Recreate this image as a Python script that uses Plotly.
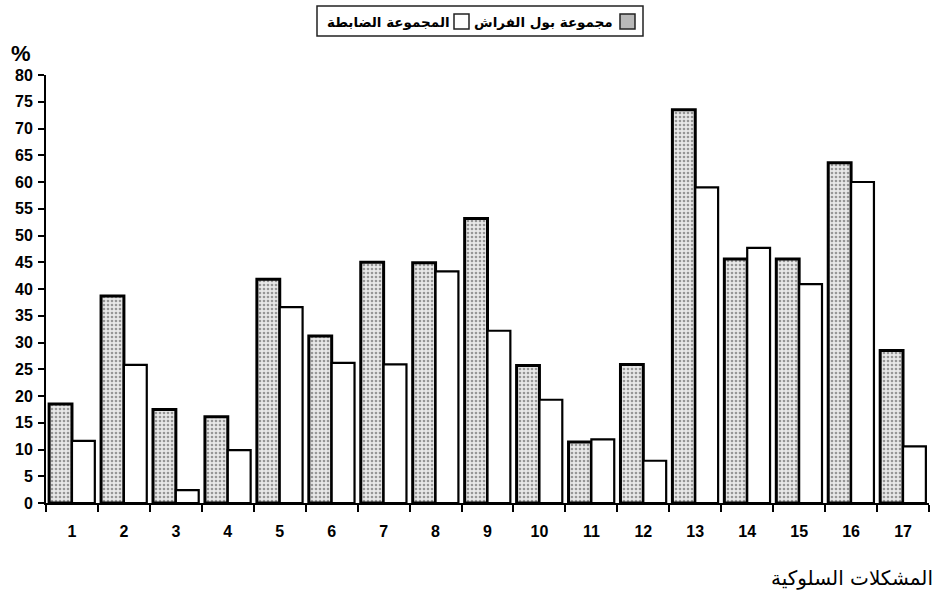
import plotly.graph_objects as go

categories = [str(i) for i in range(1, 18)]
bedwetting = [18.5, 38.7, 17.5, 16.1, 41.8, 31.2, 45.0, 44.9, 53.2, 25.7, 11.4, 25.9, 73.5, 45.6, 45.6, 63.6, 28.5]
control = [11.6, 25.8, 2.4, 9.9, 36.6, 26.2, 25.9, 43.3, 32.2, 19.3, 11.9, 7.9, 59.0, 47.7, 40.9, 60.0, 10.6]
y_ticks = list(range(0, 85, 5))

name_bed = "مجموعة بول الفراش"
name_ctrl = "المجموعة الضابطة"
x_title = "المشكلات السلوكية"

W, H = 936, 596
L, R, T, B = 46, 7, 75, 93
PW, PH = W - L - R, H - T - B

def px(x):
    return (x - L) / PW

def py(y):
    return (H - B - y) / PH

fig = go.Figure()
fig.add_trace(go.Bar(
    x=categories, y=bedwetting, name=name_bed,
    marker=dict(color="#e4e4e4",
                line=dict(color="black", width=3),
                pattern=dict(shape=".", size=4, solidity=0.35, fgcolor="#444444", bgcolor="#e8e8e8")),
    showlegend=False,
))
fig.add_trace(go.Bar(
    x=categories, y=control, name=name_ctrl,
    marker=dict(color="white", line=dict(color="black", width=2.2)),
    showlegend=False,
))

arabic_font = "DejaVu Sans"
tick_font = dict(family="Liberation Sans, Arial", size=16, color="black", weight="bold")

fig.update_layout(
    width=W, height=H,
    margin=dict(l=L, r=R, t=T, b=B, autoexpand=False),
    paper_bgcolor="white", plot_bgcolor="white",
    barmode="group", bargap=0.12, bargroupgap=0,
    xaxis=dict(type="category", tickson="boundaries", ticks="outside", ticklen=7, tickwidth=2,
               tickcolor="black", showline=True, linecolor="black", linewidth=2, automargin=False,
               showgrid=False, tickfont=tick_font, range=[-0.5, 16.5], ticklabelstandoff=13),
    yaxis=dict(range=[0, 80], tickvals=y_ticks, ticks="outside", ticklen=6, tickwidth=2,
               tickcolor="black", showline=True, linecolor="black", linewidth=2, automargin=False,
               showgrid=False, zeroline=False, tickfont=tick_font, ticklabelstandoff=2),
    font=dict(family=arabic_font, color="black"),
)

shapes = [
    dict(type="rect", xref="paper", yref="paper", x0=px(317), x1=px(643), y0=py(36), y1=py(6),
         line=dict(color="#222", width=1.5), fillcolor="white"),
    dict(type="rect", xref="paper", yref="paper", x0=px(620), x1=px(635), y0=py(29), y1=py(14),
         line=dict(color="#222", width=1.5), fillcolor="#b8b8b8"),
    dict(type="rect", xref="paper", yref="paper", x0=px(454), x1=px(469), y0=py(29), y1=py(14),
         line=dict(color="#222", width=1.5), fillcolor="white"),
]
fig.update_layout(shapes=shapes)

fig.add_annotation(xref="paper", yref="paper", x=px(543), y=py(21.5), text=name_bed,
                   showarrow=False, xanchor="center", yanchor="middle",
                   font=dict(family=arabic_font, size=13.5, color="black", weight="bold"))
fig.add_annotation(xref="paper", yref="paper", x=px(388), y=py(21.5), text=name_ctrl,
                   showarrow=False, xanchor="center", yanchor="middle",
                   font=dict(family=arabic_font, size=13.5, color="black", weight="bold"))
fig.add_annotation(xref="paper", yref="paper", x=px(21), y=py(54), text="%",
                   showarrow=False, xanchor="center", yanchor="middle",
                   font=dict(family="Liberation Sans, Arial", size=22, color="black", weight="bold"))
fig.add_annotation(xref="paper", yref="paper", x=px(852), y=py(578), text=x_title,
                   showarrow=False, xanchor="center", yanchor="middle",
                   font=dict(family=arabic_font, size=20, color="black"))

fig.write_html("out.html", config={"displayModeBar": False},
               post_script="document.body.style.margin='0';document.body.style.padding='0';")
